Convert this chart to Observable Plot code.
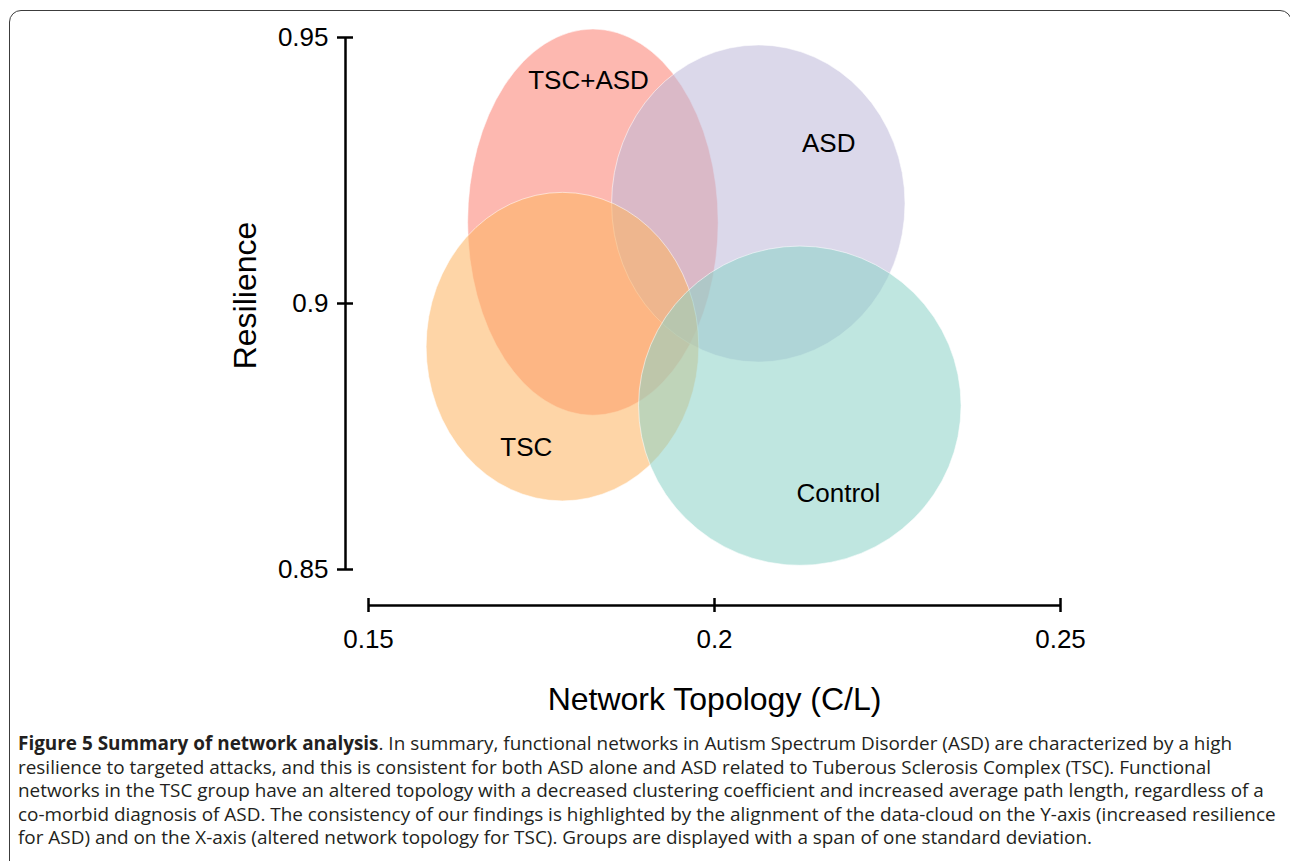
<!DOCTYPE html>
<html><head><meta charset="utf-8">
<script src="https://cdn.jsdelivr.net/npm/d3@7"></script>
<script src="https://cdn.jsdelivr.net/npm/@observablehq/plot@0.6"></script>
<style>
html,body{margin:0;padding:0;background:#fff;}
body{width:1290px;height:861px;position:relative;overflow:hidden;}
#frame{position:absolute;left:9px;top:10px;width:1283px;height:900px;border:1.5px solid #3c3c3c;border-radius:12px;box-sizing:border-box;}
#chart{position:absolute;left:0;top:0;}
#caption{position:absolute;left:18px;top:732px;font-family:"Open Sans";color:#231f20;line-height:23.5px;white-space:nowrap;font-size:18px;}
#caption div{white-space:nowrap;height:23.5px;}
</style></head><body>
<div id="frame"></div>
<div id="chart"></div>
<div id="caption"></div>
<script>
// ---- data ----
const groups = ["TSC+ASD", "ASD", "TSC", "Control"];
const meanX  = [0.1825, 0.2064, 0.1781, 0.2124];
const sdX    = [0.0181, 0.0212, 0.0197, 0.0233];
const meanY  = [0.9152, 0.9187, 0.8918, 0.8807];
const sdY    = [0.0363, 0.0298, 0.0290, 0.0300];
const labelX = [0.1818, 0.2165, 0.1728, 0.2179];
const labelY = [0.9419, 0.9301, 0.8729, 0.8643];
const colors = ["#fb8072", "#bebada", "#fdb462", "#8dd3c7"];
const xTicks = [0.15, 0.2, 0.25];
const xTickLabels = ["0.15", "0.2", "0.25"];
const yTicks = [0.85, 0.9, 0.95];
const yTickLabels = ["0.85", "0.9", "0.95"];
const xTitle = "Network Topology (C/L)";
const yTitle = "Resilience";
const captionBold = "Figure 5 Summary of network analysis";
const captionLines = [
  ". In summary, functional networks in Autism Spectrum Disorder (ASD) are characterized by a high",
  "resilience to targeted attacks, and this is consistent for both ASD alone and ASD related to Tuberous Sclerosis Complex (TSC). Functional",
  "networks in the TSC group have an altered topology with a decreased clustering coefficient and increased average path length, regardless of a",
  "co-morbid diagnosis of ASD. The consistency of our findings is highlighted by the alignment of the data-cloud on the Y-axis (increased resilience",
  "for ASD) and on the X-axis (altered network topology for TSC). Groups are displayed with a span of one standard deviation."
];

const table = groups.map((g, i) => ({group: g, mx: meanX[i], my: meanY[i], sx: sdX[i], sy: sdY[i], lx: labelX[i], ly: labelY[i], color: colors[i]}));
const xDomain = [xTicks[0], xTicks[xTicks.length - 1]];
const yDomain = [yTicks[0], yTicks[yTicks.length - 1]];

function ellipses(index, scales) {
  const x = scales.x || (scales.scales && scales.scales.x);
  const y = scales.y || (scales.scales && scales.scales.y);
  const g = d3.create("svg:g");
  g.selectAll("ellipse").data(table).join("ellipse")
    .attr("cx", d => x(d.mx)).attr("cy", d => y(d.my))
    .attr("rx", d => Math.abs(x(d.mx + d.sx) - x(d.mx)))
    .attr("ry", d => Math.abs(y(d.my + d.sy) - y(d.my)))
    .attr("fill", d => d.color).attr("fill-opacity", 0.56)
    .attr("stroke", "#ffffff").attr("stroke-opacity", 0.55).attr("stroke-width", 1);
  return g.node();
}

const chart = Plot.plot({
  width: 1290, height: 720,
  marginLeft: 368, marginRight: 230, marginTop: 37, marginBottom: 151,
  x: {domain: xDomain},
  y: {domain: yDomain},
  style: {fontFamily: "'Liberation Sans', Arial, sans-serif", background: "transparent", color: "#000", overflow: "visible"},
  marks: [
    ellipses,
    Plot.text(table, {x: "lx", y: "ly", text: "group", fontSize: 26, fill: "#000"}),
    Plot.ruleX([xDomain[0]], {y1: yDomain[0], y2: yDomain[1], dx: -23, stroke: "#000", strokeWidth: 2.5}),
    Plot.ruleY([yDomain[0]], {x1: xDomain[0], x2: xDomain[1], dy: 36, stroke: "#000", strokeWidth: 2.5}),
    Plot.axisY(yTicks, {anchor: "left", tickSize: 16, dx: -15, tickPadding: 9, fontSize: 26, strokeWidth: 2.5, stroke: "#000", fill: "#000", label: null, tickFormat: d => yTickLabels[yTicks.indexOf(d)]}),
    Plot.axisX(xTicks, {anchor: "bottom", tickSize: 14, dy: 29, tickPadding: 17, fontSize: 26, strokeWidth: 2.5, stroke: "#000", fill: "#000", label: null, tickFormat: d => xTickLabels[xTicks.indexOf(d)]}),
    Plot.text([xTitle], {frameAnchor: "bottom", text: d => d, textAnchor: "middle", lineAnchor: "middle", dy: 130, fontSize: 32, fill: "#000"}),
    Plot.text([yTitle], {frameAnchor: "left", text: d => d, textAnchor: "middle", lineAnchor: "middle", rotate: -90, dx: -123, dy: -8, fontSize: 32, fill: "#000"})
  ]
});
document.getElementById("chart").appendChild(chart);

// caption
const cap = document.getElementById("caption");
const spans = [];
captionLines.forEach((t, i) => {
  const div = document.createElement("div");
  const span = document.createElement("span");
  if (i === 0) {
    const b = document.createElement("b");
    b.textContent = captionBold;
    span.appendChild(b);
  }
  span.appendChild(document.createTextNode(t));
  div.appendChild(span);
  cap.appendChild(div);
  spans.push(span);
});
const widest = Math.max(...spans.map(s => s.getBoundingClientRect().width));
cap.style.fontSize = (18 * 1258 / widest).toFixed(2) + "px";
</script>
</body></html>
